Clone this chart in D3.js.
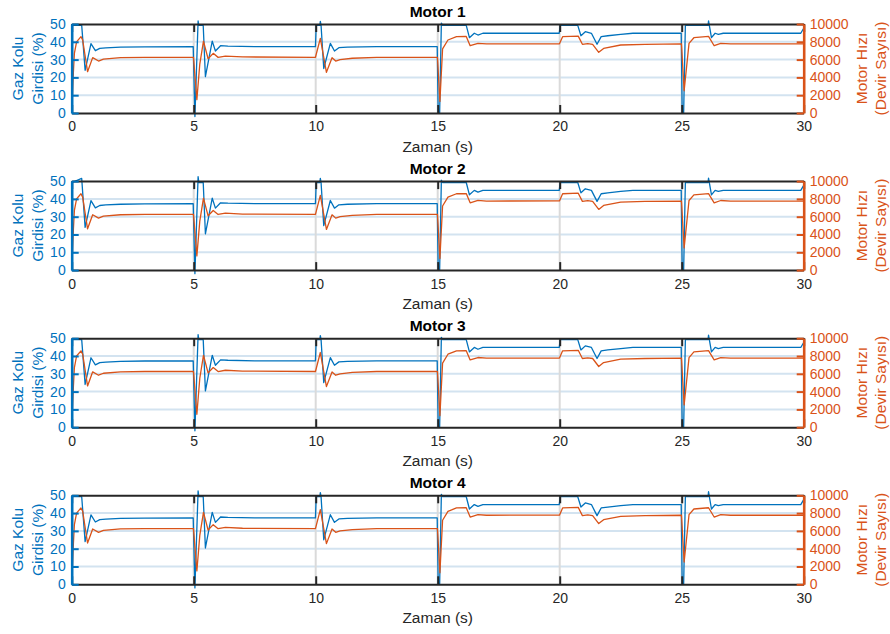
<!DOCTYPE html>
<html><head><meta charset="utf-8">
<script src="https://cdn.jsdelivr.net/npm/d3@7"></script>
<style>
html,body{margin:0;padding:0;background:#fff;}
svg{display:block;font-family:"Liberation Sans",Arial,Helvetica,sans-serif;}
</style></head>
<body><div id="chart"></div>
<script>
const motorTitles = ["Motor 1","Motor 2","Motor 3","Motor 4"];
const xTicks = [0,5,10,15,20,25,30];
const yLeftTicks = [0,10,20,30,40,50];
const yRightTicks = [0,2000,4000,6000,8000,10000];
const xLabel = "Zaman (s)";
const yLeftLabel = ["Gaz Kolu","Girdisi (%)"];
const yRightLabel = ["Motor Hızı","(Devir Sayısı)"];

const throttleTime = [0,0.01,0.41,0.55,0.79,0.97,1.15,1.4,2.0,3.0,4.98,5.05,5.18,5.21,5.39,5.48,5.76,5.89,6.1,6.4,7.5,9.99,10.02,10.17,10.19,10.22,10.33,10.6,10.77,10.95,11.3,12.5,14.98,15.02,15.08,15.15,15.2,16.17,16.3,16.5,16.65,16.85,19.98,20.02,20.74,20.87,21.05,21.3,21.53,21.7,21.97,22.5,23.0,24.98,25.02,25.08,25.15,26.08,26.1,26.22,26.37,26.5,26.7,29.88,30.0];
const throttleM1 = [0,49.2,49.2,24,39,35,36.3,36.6,37.0,37.2,37.3,-2,51.7,49.2,49.2,20.4,40.4,34.8,37.8,37.6,37.3,37.3,49.2,49.2,51.5,49.2,25,39.1,34.8,36.7,37.0,37.3,37.3,0,0,50.5,49.2,49.2,42.3,44.8,43.8,44.8,44.8,49.2,49.2,43.4,45.7,44.8,38.6,42.9,43.4,44.2,44.8,44.8,0,0,49.2,49.2,51.7,42.3,44.8,44.2,44.8,44.8,47.6];
const throttleM2 = [0,49.2,51.5,24,39,35,36.3,36.6,37.0,37.2,37.3,-2,52.5,49.2,49.2,20.4,40.4,34.8,37.8,37.6,37.3,37.3,49.2,49.2,51.5,49.2,25,39.1,34.8,36.7,37.0,37.3,37.3,0,0,50.5,49.2,49.2,42.3,44.8,43.8,44.8,44.8,49.2,49.2,43.4,45.7,44.8,38.6,42.9,43.4,44.2,44.8,44.8,0,0,49.2,49.2,51.7,42.3,44.8,44.2,44.8,44.8,47.6];
const throttleM3 = [0,49.2,49.2,24,39,35,36.3,36.6,37.0,37.2,37.3,-2,52,49.2,49.2,20.4,40.4,34.8,37.8,37.6,37.3,37.3,49.2,49.2,51.5,49.2,25,39.1,34.8,36.7,37.0,37.3,37.3,0,0,50.5,49.2,49.2,42.3,44.8,43.8,44.8,44.8,49.2,49.2,43.4,45.7,44.8,38.6,42.9,43.4,44.2,44.8,44.8,0,0,49.2,49.2,51.7,42.3,44.8,44.2,44.8,44.8,47.6];
const throttleM4 = [0,49.2,49.2,24,39,35,36.3,36.6,37.0,37.2,37.3,-2,52.5,49.2,49.2,20.4,40.4,34.8,37.8,37.6,37.3,37.3,49.2,49.2,51.5,49.2,25,39.1,34.8,36.7,37.0,37.3,37.3,0,0,50.5,49.2,49.2,42.3,44.8,43.8,44.8,44.8,49.2,49.2,43.4,45.7,44.8,38.6,42.9,43.4,44.2,44.8,44.8,0,0,49.2,49.2,52,42.3,44.8,44.2,44.8,44.8,47.6];

const rpmTime = [0,0.03,0.07,0.11,0.2,0.38,0.45,0.65,0.86,1.1,1.3,2.0,3.0,4.99,5.13,5.25,5.4,5.59,5.8,6.0,6.3,7.0,9.99,10.19,10.44,10.67,10.82,11.0,11.5,12.5,14.99,15.09,15.2,15.42,15.77,16.17,16.33,16.65,17.0,19.99,20.12,20.76,20.93,21.15,21.35,21.6,21.8,22.5,23.5,24.99,25.1,25.3,25.5,26.1,26.33,26.6,27.0,30.0];
const rpmM1 = [0,2000,4600,6700,8000,8580,8200,4640,6220,5840,6060,6220,6260,6260,1500,5500,8080,6100,6700,6250,6400,6300,6260,8390,4570,6210,5840,6000,6150,6260,6260,1300,7200,8200,8580,8600,7560,7830,7760,7770,8580,8640,7720,7800,7720,6820,7260,7640,7720,7760,2500,7820,8460,8600,7560,7820,7760,7760];
const rpmM2 = [0,2000,4600,6700,8000,8580,8200,4640,6220,5840,6060,6220,6260,6260,1600,5500,8080,6100,6700,6250,6400,6300,6260,8390,4570,6210,5840,6000,6150,6260,6260,1300,7200,8200,8580,8600,7560,7830,7760,7770,8580,8640,7720,7800,7720,6820,7260,7640,7720,7760,2500,7820,8460,8600,7560,7820,7760,7760];
const rpmM3 = [0,2000,4600,6700,8000,8580,8200,4640,6220,5840,6060,6220,6260,6260,1450,5500,8080,6100,6700,6250,6400,6300,6260,8390,4570,6210,5840,6000,6150,6260,6260,1300,7200,8200,8580,8600,7560,7830,7760,7770,8580,8640,7720,7800,7720,6820,7260,7640,7720,7760,2500,7820,8460,8600,7560,7820,7760,7760];
const rpmM4 = [0,2000,4600,6700,8000,8580,8200,4640,6220,5840,6060,6220,6260,6260,1500,5500,8080,6100,6700,6250,6400,6300,6260,8390,4570,6210,5840,6000,6150,6260,6260,1300,7200,8200,8580,8600,7560,7830,7760,7770,8580,8640,7720,7800,7720,6820,7260,7640,7720,7760,2500,7820,8460,8600,7560,7820,7760,7760];

const throttleSeries = [throttleM1,throttleM2,throttleM3,throttleM4];
const rpmSeries = [rpmM1,rpmM2,rpmM3,rpmM4];

const W = 890, H = 634;
const BLUE = "#0072BD", ORANGE = "#D95319", DARK = "#262626";
const left = 71.7, right = 803.7, plotH = 89, firstTop = 24, step = 157.1;
const FONT = "Liberation Sans, Arial, sans-serif";

const svg = d3.select("#chart").append("svg").attr("width", W).attr("height", H);
const x = d3.scaleLinear().domain([0,30]).range([left,right]);

motorTitles.forEach((title, i) => {
  const top = firstTop + i*step, bottom = top + plotH;
  const yL = d3.scaleLinear().domain([0,50]).range([bottom, top]);
  const yR = d3.scaleLinear().domain([0,10000]).range([bottom, top]);
  const g = svg.append("g");

  // grid
  g.selectAll(".hg").data(yLeftTicks.slice(1,-1)).enter().append("line")
    .attr("x1", left).attr("x2", right).attr("y1", d=>yL(d)).attr("y2", d=>yL(d))
    .attr("stroke", "#d3e3f0").attr("stroke-width", 2);
  g.selectAll(".vg").data(xTicks.slice(1,-1)).enter().append("line")
    .attr("x1", d=>x(d)).attr("x2", d=>x(d)).attr("y1", top).attr("y2", bottom)
    .attr("stroke", "#dadada").attr("stroke-width", 2);

  // data
  const thr = throttleSeries[i], rpm = rpmSeries[i];
  const lineL = d3.line().x((d,k)=>x(throttleTime[k])).y(d=>yL(d));
  const lineR = d3.line().x((d,k)=>x(rpmTime[k])).y(d=>yR(d));
  g.append("path").datum(thr).attr("d", lineL).attr("fill","none")
    .attr("stroke", BLUE).attr("stroke-width", 1.3).attr("stroke-linejoin","round");
  g.append("path").datum(rpm).attr("d", lineR).attr("fill","none")
    .attr("stroke", ORANGE).attr("stroke-width", 1.3).attr("stroke-linejoin","round");

  // x axis (bottom) and top box line
  const xb = g.append("g").attr("transform", `translate(0,${bottom})`)
    .call(d3.axisBottom(x).tickValues(xTicks).tickSizeInner(-8).tickSizeOuter(0).tickPadding(8.5));
  xb.select(".domain").attr("stroke", DARK).attr("stroke-width", 2);
  xb.selectAll(".tick line").attr("stroke", DARK).attr("stroke-width", 2);
  xb.selectAll(".tick text").attr("fill", DARK).attr("font-size", 14).attr("font-family", FONT);
  const xt = g.append("g").attr("transform", `translate(0,${top})`)
    .call(d3.axisTop(x).tickValues(xTicks).tickSizeInner(-8).tickSizeOuter(0).tickFormat(""));
  xt.select(".domain").attr("stroke", DARK).attr("stroke-width", 2);
  xt.selectAll(".tick line").attr("stroke", DARK).attr("stroke-width", 2);

  // left axis
  const ya = g.append("g").attr("transform", `translate(${left},0)`)
    .call(d3.axisLeft(yL).tickValues(yLeftTicks).tickSizeInner(-7).tickSizeOuter(0).tickPadding(6));
  ya.select(".domain").attr("stroke", BLUE).attr("stroke-width", 2.6);
  ya.selectAll(".tick line").attr("stroke", BLUE).attr("stroke-width", 2);
  ya.selectAll(".tick text").attr("fill", BLUE).attr("font-size", 14).attr("font-family", FONT);

  // right axis
  const yb = g.append("g").attr("transform", `translate(${right},0)`)
    .call(d3.axisRight(yR).tickValues(yRightTicks).tickSizeInner(-7).tickSizeOuter(0).tickPadding(6).tickFormat(d3.format("d")));
  yb.select(".domain").attr("stroke", ORANGE).attr("stroke-width", 2.6);
  yb.selectAll(".tick line").attr("stroke", ORANGE).attr("stroke-width", 2);
  yb.selectAll(".tick text").attr("fill", ORANGE).attr("font-size", 14).attr("font-family", FONT);

  // title
  g.append("text").attr("x", (left+right)/2).attr("y", top - 7)
    .attr("text-anchor","middle").attr("font-weight","bold").attr("font-size", 15.5)
    .attr("fill", "#000").text(title);
  // x label
  g.append("text").attr("x", (left+right)/2).attr("y", bottom + 38.5)
    .attr("text-anchor","middle").attr("font-size", 15.5).attr("fill", DARK).text(xLabel);
  // left label
  const cy = (top+bottom)/2;
  [23.4, 43].forEach((bx, k) => {
    g.append("text").attr("transform", `translate(${bx},${cy}) rotate(-90)`)
      .attr("text-anchor","middle").attr("font-size", 15.5).attr("fill", BLUE).text(yLeftLabel[k]);
  });
  // right label
  [867, 886.3].forEach((bx, k) => {
    g.append("text").attr("transform", `translate(${bx},${cy}) rotate(-90)`)
      .attr("text-anchor","middle").attr("font-size", 15.5).attr("fill", ORANGE).text(yRightLabel[k]);
  });
});
</script></body></html>
